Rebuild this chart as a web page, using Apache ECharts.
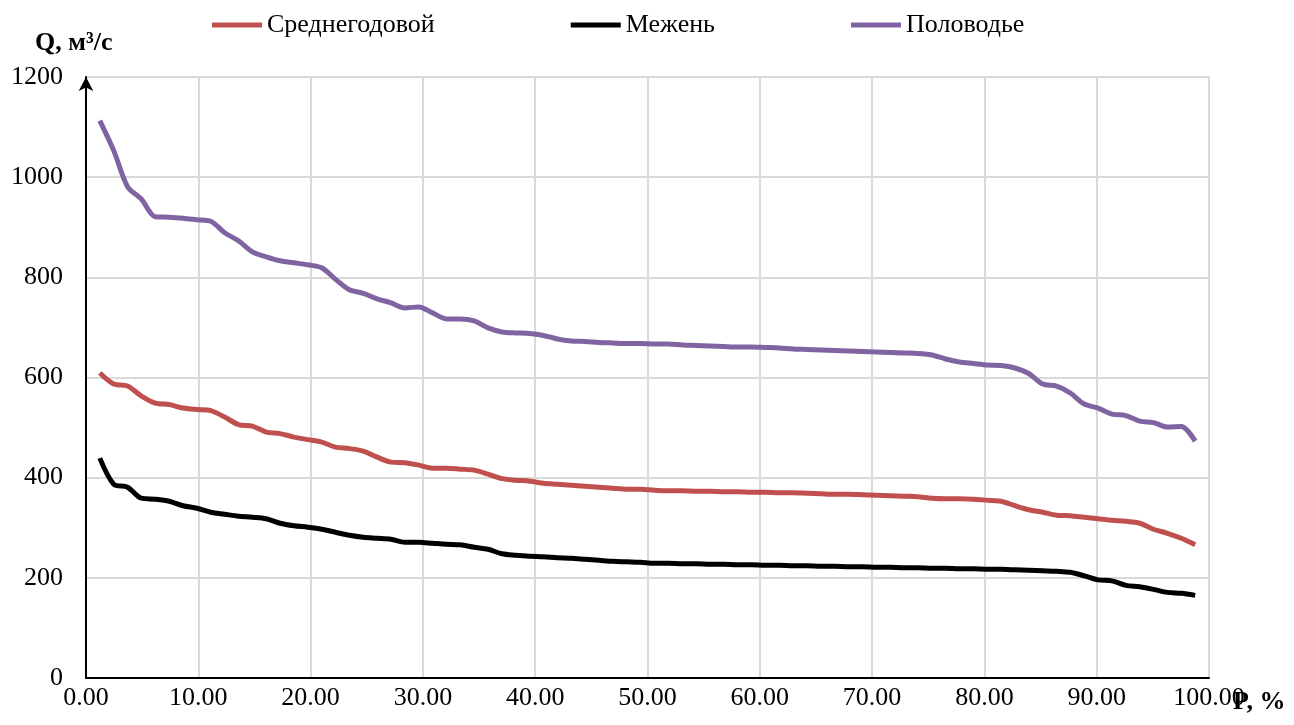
<!DOCTYPE html>
<html>
<head>
<meta charset="utf-8">
<script src="https://cdn.jsdelivr.net/npm/echarts@6/dist/echarts.min.js"></script>
<style>
  html, body { margin: 0; padding: 0; background: #fff; }
  #chart { width: 1294px; height: 725px; }
</style>
</head>
<body>
<div id="chart"></div>
<script>
// Exceedance probability P, %
const probability = [
  1.23, 2.47, 3.70, 4.94, 6.17, 7.41, 8.64, 9.88, 11.11, 12.35,
  13.58, 14.81, 16.05, 17.28, 18.52, 19.75, 20.99, 22.22, 23.46, 24.69,
  25.93, 27.16, 28.40, 29.63, 30.86, 32.10, 33.33, 34.57, 35.80, 37.04,
  38.27, 39.51, 40.74, 41.98, 43.21, 44.44, 45.68, 46.91, 48.15, 49.38,
  50.62, 51.85, 53.09, 54.32, 55.56, 56.79, 58.02, 59.26, 60.49, 61.73,
  62.96, 64.20, 65.43, 66.67, 67.90, 69.14, 70.37, 71.60, 72.84, 74.07,
  75.31, 76.54, 77.78, 79.01, 80.25, 81.48, 82.72, 83.95, 85.19, 86.42,
  87.65, 88.89, 90.12, 91.36, 92.59, 93.83, 95.06, 96.30, 97.53, 98.77
];

// Mean annual discharge, m3/s
const annualQ = [
  609, 587, 583, 563, 549, 546, 539, 536, 534, 521,
  506, 503, 491, 488, 481, 476, 471, 461, 458, 453,
  441, 431, 430, 425, 419, 419, 417, 415, 407, 398,
  395, 393, 389, 387, 385, 383, 381, 379, 377, 377,
  375, 374, 374, 373, 373, 372, 372, 371, 371, 370,
  370, 369, 368, 367, 367, 366, 365, 364, 363, 362,
  359, 358, 358, 357, 355, 353, 344, 336, 331, 325,
  324, 321, 318, 315, 313, 309, 297, 289, 279, 266
];

// Low-water (межень) discharge, m3/s
const lowWaterQ = [
  439, 387, 381, 359, 357, 353, 344, 339, 331, 327,
  323, 321, 318, 309, 304, 301, 297, 291, 285, 281,
  279, 277, 271, 271, 269, 267, 266, 261, 257, 248,
  245, 243, 242, 240, 239, 237, 235, 233, 232, 231,
  229, 229, 228, 228, 227, 227, 226, 226, 225, 225,
  224, 224, 223, 223, 222, 222, 221, 221, 220, 220,
  219, 219, 218, 218, 217, 217, 216, 215, 214, 213,
  211, 204, 196, 194, 185, 182, 177, 171, 169, 165
];

// Flood (половодье) discharge, m3/s
const floodQ = [
  1113, 1053, 981, 956, 921, 920, 918, 915, 912, 889,
  873, 851, 841, 833, 829, 825, 819, 796, 775, 768,
  757, 749, 739, 741, 729, 717, 717, 713, 699, 691,
  689, 688, 684, 677, 673, 672, 670, 669, 668, 668,
  667, 667, 665, 664, 663, 662, 661, 661, 660, 659,
  657, 656, 655, 654, 653, 652, 651, 650, 649, 648,
  645, 637, 631, 628, 625, 624, 619, 608, 587, 583,
  569, 547, 539, 527, 524, 513, 510, 501, 502, 473
];

const seriesNames = ['Среднегодовой', 'Межень', 'Половодье'];
const seriesColors = ['#C0504D', '#000000', '#8064A2'];
const seriesValues = [annualQ, lowWaterQ, floodQ];

const FONT = "'Liberation Serif', 'Times New Roman', serif";
const TITLE_FONT = "bold 26px 'Liberation Serif', 'Times New Roman', serif";

function pairs(values) {
  return probability.map((p, i) => [p, values[i]]);
}

const chart = echarts.init(document.getElementById('chart'), null, { renderer: 'canvas' });

chart.setOption({
  animation: false,
  backgroundColor: '#ffffff',
  grid: { left: 86, right: 85, top: 77, bottom: 47, containLabel: false },
  legend: {
    data: seriesNames,
    left: 212,
    top: 12,
    padding: 0,
    icon: 'rect',
    itemWidth: 50,
    itemHeight: 5,
    itemGap: 136,
    textStyle: { fontFamily: FONT, fontSize: 26, color: '#000' }
  },
  xAxis: {
    type: 'value',
    min: 0,
    max: 100,
    interval: 10,
    axisLine: { show: true, onZero: false, lineStyle: { color: '#000', width: 2 } },
    axisTick: { show: false },
    axisLabel: {
      fontFamily: FONT, fontSize: 26, color: '#000', margin: 7,
      formatter: v => v.toFixed(2)
    },
    splitLine: { show: true, lineStyle: { color: '#d9d9d9', width: 2 } }
  },
  yAxis: {
    type: 'value',
    min: 0,
    max: 1200,
    interval: 200,
    axisLine: {
      show: true, onZero: false,
      symbol: ['none', 'arrow'], symbolSize: [11, 14], symbolOffset: [0, 0],
      lineStyle: { color: '#000', width: 2 }
    },
    axisTick: { show: false },
    axisLabel: {
      fontFamily: FONT, fontSize: 26, color: '#000', margin: 23,
      formatter: v => String(v)
    },
    splitLine: { show: true, lineStyle: { color: '#d9d9d9', width: 2 } }
  },
  graphic: [
    {
      type: 'text', left: 35, top: 30,
      style: { text: 'Q, м³/с', font: TITLE_FONT, fill: '#000' }
    },
    {
      type: 'text', left: 1233, top: 689,
      style: { text: 'P, %', font: TITLE_FONT, fill: '#000' }
    }
  ],
  series: seriesNames.map((name, k) => ({
    name: name,
    type: 'line',
    data: pairs(seriesValues[k]),
    smooth: 0.3,
    showSymbol: false,
    symbol: 'none',
    itemStyle: { color: seriesColors[k] },
    lineStyle: { color: seriesColors[k], width: 5 }
  }))
});
</script>
</body>
</html>
